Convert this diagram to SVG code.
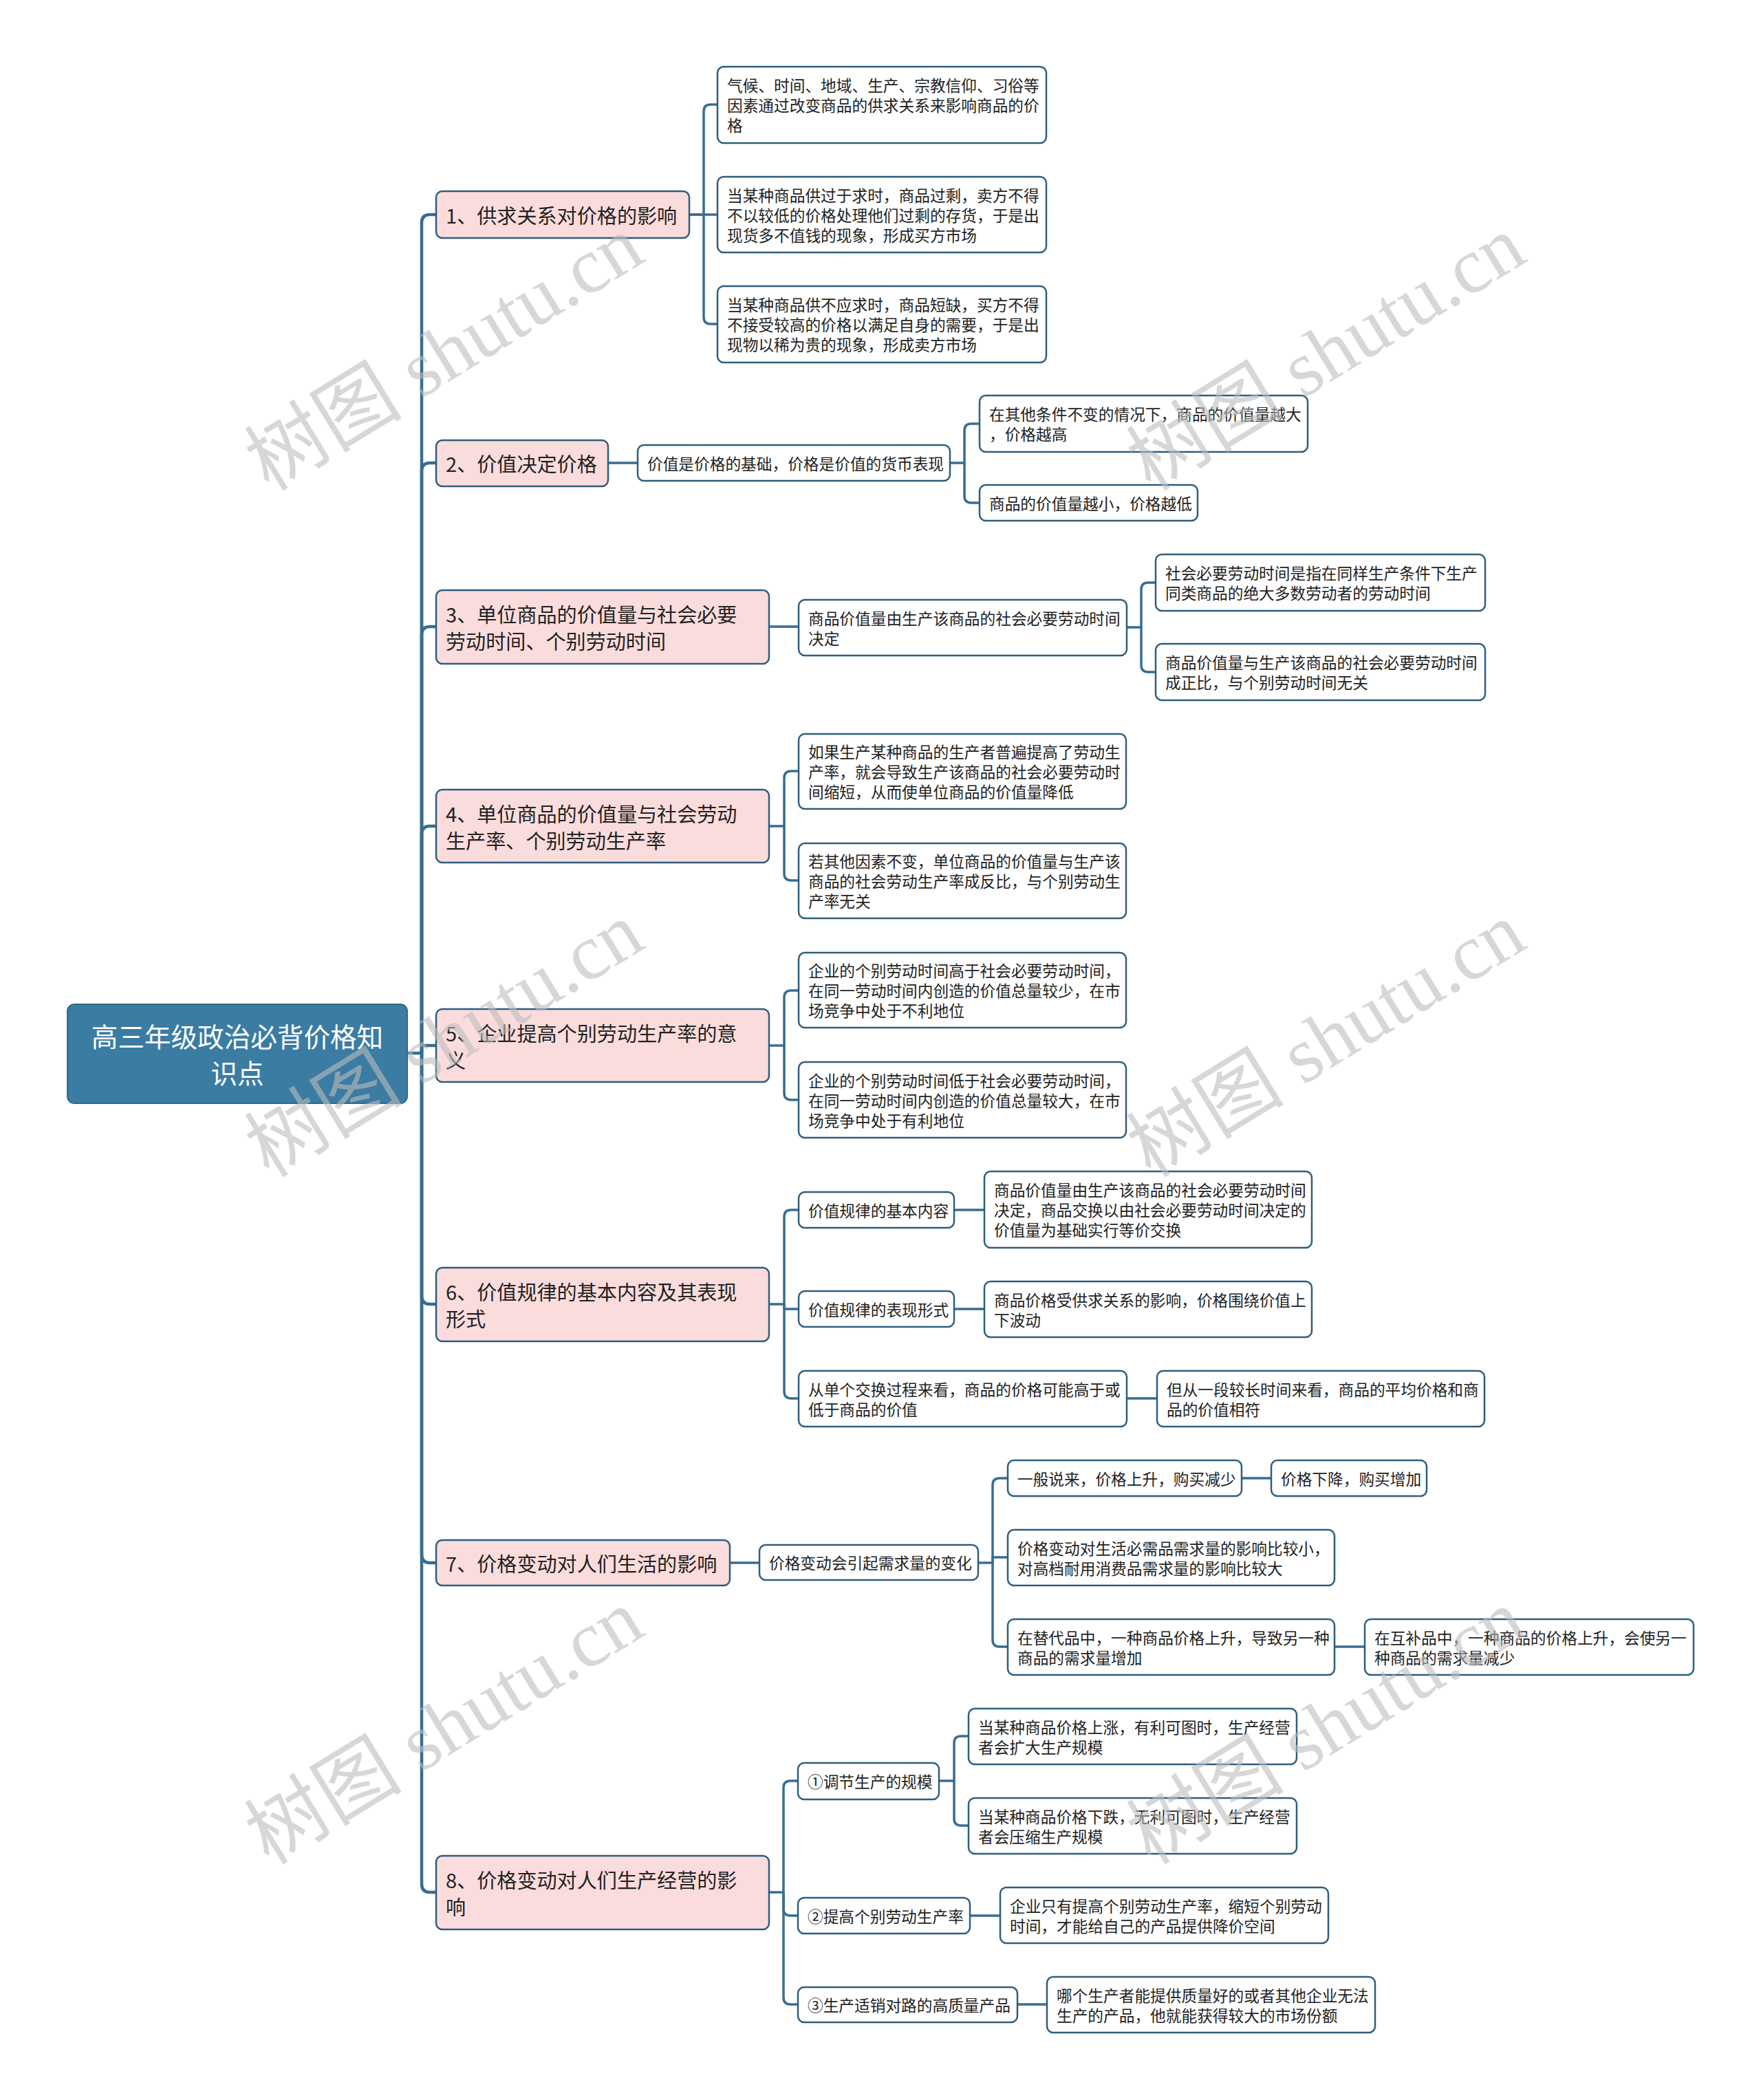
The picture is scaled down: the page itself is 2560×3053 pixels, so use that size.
<svg xmlns="http://www.w3.org/2000/svg" width="2560" height="3053" viewBox="0 0 2560 3053">
<style>
.bg{fill:#ffffff}
.root{fill:#3b7ca3;stroke:#2f6a8e;stroke-width:2}
.l1{fill:#fbdcdc;stroke:#2e5e7e;stroke-width:2.5}
.l2{fill:#ffffff;stroke:#2e5e7e;stroke-width:2.5}
text{font-family:"Noto Sans CJK SC","Noto Sans",sans-serif;dominant-baseline:central}
.tr{font-size:38.6px;fill:#ffffff;text-anchor:middle}
.t1{font-size:29.1px;fill:#222222}
.t2{font-size:22.7px;fill:#222222}
.conn path{fill:none;stroke:#386d92;stroke-width:3.5;stroke-linejoin:round}
.conn .trunk{stroke-width:4.5}
.wm{font-family:"Liberation Serif","Noto Sans CJK SC",serif;font-size:115px;fill:#bdbdbd;fill-opacity:0.6;text-anchor:middle;dominant-baseline:central}
</style>
<rect class="bg" x="0" y="0" width="2560" height="3053"/>
<g id="connectors" class="conn">
<path class="trunk" d="M592 1531 H613"/>
<path class="trunk" d="M613 1531 V324 Q613 312 625 312 H634"/>
<path class="trunk" d="M613 1531 V685 Q613 673 625 673 H634"/>
<path class="trunk" d="M613 1531 V923 Q613 911 625 911 H634"/>
<path class="trunk" d="M613 1531 V1213 Q613 1201 625 1201 H634"/>
<path class="trunk" d="M613 1520 H634"/>
<path class="trunk" d="M613 1531 V1884 Q613 1896 625 1896 H634"/>
<path class="trunk" d="M613 1531 V2260 Q613 2272 625 2272 H634"/>
<path class="trunk" d="M613 1531 V2739 Q613 2751 625 2751 H634"/>
<path d="M1002 312 H1023 V162 Q1023 152 1033 152 H1043"/>
<path d="M1002 312 H1043"/>
<path d="M1023 312 V461 Q1023 471 1033 471 H1043"/>
<path d="M884 673 H927"/>
<path d="M1381 673 H1402 V626 Q1402 616 1412 616 H1424"/>
<path d="M1402 673 V721 Q1402 731 1412 731 H1424"/>
<path d="M1118 911 H1161"/>
<path d="M1638 912 H1659 V857 Q1659 847 1669 847 H1680"/>
<path d="M1659 912 V967 Q1659 977 1669 977 H1680"/>
<path d="M1118 1201 H1140 V1131 Q1140 1121 1150 1121 H1161"/>
<path d="M1140 1201 V1270 Q1140 1280 1150 1280 H1161"/>
<path d="M1118 1520 H1140 V1450 Q1140 1440 1150 1440 H1161"/>
<path d="M1140 1520 V1589 Q1140 1599 1150 1599 H1161"/>
<path d="M1118 1896 H1140 V1769 Q1140 1759 1150 1759 H1161"/>
<path d="M1140 1896 V1903 H1161"/>
<path d="M1140 1896 V2023 Q1140 2033 1150 2033 H1161"/>
<path d="M1387 1759 H1431"/>
<path d="M1387 1903 H1431"/>
<path d="M1638 2033 H1682"/>
<path d="M1061 2272 H1104"/>
<path d="M1422 2272 H1443 V2159 Q1443 2149 1453 2149 H1465"/>
<path d="M1443 2272 V2264 H1465"/>
<path d="M1443 2272 V2384 Q1443 2394 1453 2394 H1465"/>
<path d="M1805 2149 H1848"/>
<path d="M1940 2394 H1984"/>
<path d="M1118 2751 H1139 V2599 Q1139 2589 1149 2589 H1160"/>
<path d="M1139 2751 V2775 Q1139 2785 1149 2785 H1160"/>
<path d="M1139 2751 V2904 Q1139 2914 1149 2914 H1160"/>
<path d="M1365 2589 H1387 V2534 Q1387 2524 1397 2524 H1408"/>
<path d="M1387 2589 V2644 Q1387 2654 1397 2654 H1408"/>
<path d="M1410 2785 H1454"/>
<path d="M1479 2914 H1522"/>
</g>
<g id="root"><rect class="root" x="98" y="1460" width="494" height="144" rx="10"/><text class="tr" x="345" y="1505">高三年级政治必背价格知</text><text class="tr" x="345" y="1558">识点</text></g>

<g id="n1"><rect class="l1" x="634" y="278" width="368" height="68" rx="9"/><text class="t1" x="648" y="312">1、供求关系对价格的影响</text></g>
<g id="n1a"><rect class="l2" x="1043" y="97" width="478" height="111" rx="9"/><text class="t2" x="1057" y="123.5">气候、时间、地域、生产、宗教信仰、习俗等</text><text class="t2" x="1057" y="152.5">因素通过改变商品的供求关系来影响商品的价</text><text class="t2" x="1057" y="181.5">格</text></g>
<g id="n1b"><rect class="l2" x="1043" y="257" width="478" height="110" rx="9"/><text class="t2" x="1057" y="283">当某种商品供过于求时，商品过剩，卖方不得</text><text class="t2" x="1057" y="312">不以较低的价格处理他们过剩的存货，于是出</text><text class="t2" x="1057" y="341">现货多不值钱的现象，形成买方市场</text></g>
<g id="n1c"><rect class="l2" x="1043" y="416" width="478" height="111" rx="9"/><text class="t2" x="1057" y="442.5">当某种商品供不应求时，商品短缺，买方不得</text><text class="t2" x="1057" y="471.5">不接受较高的价格以满足自身的需要，于是出</text><text class="t2" x="1057" y="500.5">现物以稀为贵的现象，形成卖方市场</text></g>

<g id="n2"><rect class="l1" x="634" y="640" width="250" height="67" rx="9"/><text class="t1" x="648" y="673">2、价值决定价格</text></g>
<g id="n2c"><rect class="l2" x="927" y="647" width="454" height="52" rx="9"/><text class="t2" x="941" y="673">价值是价格的基础，价格是价值的货币表现</text></g>
<g id="n2a"><rect class="l2" x="1424" y="575" width="477" height="82" rx="9"/><text class="t2" x="1438" y="601.5">在其他条件不变的情况下，商品的价值量越大</text><text class="t2" x="1438" y="630.5">，价格越高</text></g>
<g id="n2b"><rect class="l2" x="1424" y="705" width="317" height="52" rx="9"/><text class="t2" x="1438" y="731">商品的价值量越小，价格越低</text></g>

<g id="n3"><rect class="l1" x="634" y="858" width="484" height="107" rx="9"/><text class="t1" x="648" y="891.5">3、单位商品的价值量与社会必要</text><text class="t1" x="648" y="930.5">劳动时间、个别劳动时间</text></g>
<g id="n3c"><rect class="l2" x="1161" y="872" width="477" height="81" rx="9"/><text class="t2" x="1175" y="898">商品价值量由生产该商品的社会必要劳动时间</text><text class="t2" x="1175" y="927">决定</text></g>
<g id="n3a"><rect class="l2" x="1680" y="806" width="479" height="82" rx="9"/><text class="t2" x="1694" y="832.5">社会必要劳动时间是指在同样生产条件下生产</text><text class="t2" x="1694" y="861.5">同类商品的绝大多数劳动者的劳动时间</text></g>
<g id="n3b"><rect class="l2" x="1680" y="936" width="479" height="82" rx="9"/><text class="t2" x="1694" y="962.5">商品价值量与生产该商品的社会必要劳动时间</text><text class="t2" x="1694" y="991.5">成正比，与个别劳动时间无关</text></g>

<g id="n4"><rect class="l1" x="634" y="1148" width="484" height="106" rx="9"/><text class="t1" x="648" y="1181.5">4、单位商品的价值量与社会劳动</text><text class="t1" x="648" y="1220.5">生产率、个别劳动生产率</text></g>
<g id="n4a"><rect class="l2" x="1161" y="1067" width="476" height="109" rx="9"/><text class="t2" x="1175" y="1092.5">如果生产某种商品的生产者普遍提高了劳动生</text><text class="t2" x="1175" y="1121.5">产率，就会导致生产该商品的社会必要劳动时</text><text class="t2" x="1175" y="1150.5">间缩短，从而使单位商品的价值量降低</text></g>
<g id="n4b"><rect class="l2" x="1161" y="1226" width="476" height="109" rx="9"/><text class="t2" x="1175" y="1251.5">若其他因素不变，单位商品的价值量与生产该</text><text class="t2" x="1175" y="1280.5">商品的社会劳动生产率成反比，与个别劳动生</text><text class="t2" x="1175" y="1309.5">产率无关</text></g>

<g id="n5"><rect class="l1" x="634" y="1467" width="484" height="106" rx="9"/><text class="t1" x="648" y="1500.5">5、企业提高个别劳动生产率的意</text><text class="t1" x="648" y="1539.5">义</text></g>
<g id="n5a"><rect class="l2" x="1161" y="1385" width="476" height="109" rx="9"/><text class="t2" x="1175" y="1410.5">企业的个别劳动时间高于社会必要劳动时间，</text><text class="t2" x="1175" y="1439.5">在同一劳动时间内创造的价值总量较少，在市</text><text class="t2" x="1175" y="1468.5">场竞争中处于不利地位</text></g>
<g id="n5b"><rect class="l2" x="1161" y="1544" width="476" height="110" rx="9"/><text class="t2" x="1175" y="1570">企业的个别劳动时间低于社会必要劳动时间，</text><text class="t2" x="1175" y="1599">在同一劳动时间内创造的价值总量较大，在市</text><text class="t2" x="1175" y="1628">场竞争中处于有利地位</text></g>

<g id="n6"><rect class="l1" x="634" y="1843" width="484" height="107" rx="9"/><text class="t1" x="648" y="1876.5">6、价值规律的基本内容及其表现</text><text class="t1" x="648" y="1915.5">形式</text></g>
<g id="n6a"><rect class="l2" x="1161" y="1733" width="226" height="52" rx="9"/><text class="t2" x="1175" y="1759">价值规律的基本内容</text></g>
<g id="n6a1"><rect class="l2" x="1431" y="1703" width="476" height="111" rx="9"/><text class="t2" x="1445" y="1729.5">商品价值量由生产该商品的社会必要劳动时间</text><text class="t2" x="1445" y="1758.5">决定，商品交换以由社会必要劳动时间决定的</text><text class="t2" x="1445" y="1787.5">价值量为基础实行等价交换</text></g>
<g id="n6b"><rect class="l2" x="1161" y="1877" width="226" height="52" rx="9"/><text class="t2" x="1175" y="1903">价值规律的表现形式</text></g>
<g id="n6b1"><rect class="l2" x="1431" y="1863" width="476" height="81" rx="9"/><text class="t2" x="1445" y="1889">商品价格受供求关系的影响，价格围绕价值上</text><text class="t2" x="1445" y="1918">下波动</text></g>
<g id="n6c"><rect class="l2" x="1161" y="1993" width="477" height="81" rx="9"/><text class="t2" x="1175" y="2019">从单个交换过程来看，商品的价格可能高于或</text><text class="t2" x="1175" y="2048">低于商品的价值</text></g>
<g id="n6c1"><rect class="l2" x="1682" y="1993" width="476" height="81" rx="9"/><text class="t2" x="1696" y="2019">但从一段较长时间来看，商品的平均价格和商</text><text class="t2" x="1696" y="2048">品的价值相符</text></g>

<g id="n7"><rect class="l1" x="634" y="2239" width="427" height="66" rx="9"/><text class="t1" x="648" y="2272">7、价格变动对人们生活的影响</text></g>
<g id="n7c"><rect class="l2" x="1104" y="2246" width="318" height="51" rx="9"/><text class="t2" x="1118" y="2271.5">价格变动会引起需求量的变化</text></g>
<g id="n7a"><rect class="l2" x="1465" y="2123" width="340" height="52" rx="9"/><text class="t2" x="1479" y="2149">一般说来，价格上升，购买减少</text></g>
<g id="n7a1"><rect class="l2" x="1848" y="2123" width="226" height="52" rx="9"/><text class="t2" x="1862" y="2149">价格下降，购买增加</text></g>
<g id="n7b"><rect class="l2" x="1465" y="2224" width="475" height="81" rx="9"/><text class="t2" x="1479" y="2250">价格变动对生活必需品需求量的影响比较小，</text><text class="t2" x="1479" y="2279">对高档耐用消费品需求量的影响比较大</text></g>
<g id="n7d"><rect class="l2" x="1465" y="2354" width="475" height="81" rx="9"/><text class="t2" x="1479" y="2380">在替代品中，一种商品价格上升，导致另一种</text><text class="t2" x="1479" y="2409">商品的需求量增加</text></g>
<g id="n7d1"><rect class="l2" x="1984" y="2354" width="478" height="81" rx="9"/><text class="t2" x="1998" y="2380">在互补品中，一种商品的价格上升，会使另一</text><text class="t2" x="1998" y="2409">种商品的需求量减少</text></g>

<g id="n8"><rect class="l1" x="634" y="2698" width="484" height="107" rx="9"/><text class="t1" x="648" y="2731.5">8、价格变动对人们生产经营的影</text><text class="t1" x="648" y="2770.5">响</text></g>
<g id="n8a"><rect class="l2" x="1160" y="2563" width="205" height="53" rx="9"/><text class="t2" x="1174" y="2589.5">①调节生产的规模</text></g>
<g id="n8a1"><rect class="l2" x="1408" y="2484" width="477" height="81" rx="9"/><text class="t2" x="1422" y="2510">当某种商品价格上涨，有利可图时，生产经营</text><text class="t2" x="1422" y="2539">者会扩大生产规模</text></g>
<g id="n8a2"><rect class="l2" x="1408" y="2614" width="477" height="81" rx="9"/><text class="t2" x="1422" y="2640">当某种商品价格下跌，无利可图时，生产经营</text><text class="t2" x="1422" y="2669">者会压缩生产规模</text></g>
<g id="n8b"><rect class="l2" x="1160" y="2759" width="250" height="52" rx="9"/><text class="t2" x="1174" y="2785">②提高个别劳动生产率</text></g>
<g id="n8b1"><rect class="l2" x="1454" y="2744" width="477" height="81" rx="9"/><text class="t2" x="1468" y="2770">企业只有提高个别劳动生产率，缩短个别劳动</text><text class="t2" x="1468" y="2799">时间，才能给自己的产品提供降价空间</text></g>
<g id="n8c"><rect class="l2" x="1160" y="2889" width="319" height="51" rx="9"/><text class="t2" x="1174" y="2914.5">③生产适销对路的高质量产品</text></g>
<g id="n8c1"><rect class="l2" x="1522" y="2874" width="477" height="81" rx="9"/><text class="t2" x="1536" y="2900">哪个生产者能提供质量好的或者其他企业无法</text><text class="t2" x="1536" y="2929">生产的产品，他就能获得较大的市场份额</text></g>

<g id="watermarks">
<text class="wm" x="646" y="514" transform="rotate(-31.5 646 514)">树图 shutu.cn</text>
<text class="wm" x="1928" y="514" transform="rotate(-31.5 1928 514)">树图 shutu.cn</text>
<text class="wm" x="646" y="1512" transform="rotate(-31.5 646 1512)">树图 shutu.cn</text>
<text class="wm" x="1928" y="1512" transform="rotate(-31.5 1928 1512)">树图 shutu.cn</text>
<text class="wm" x="646" y="2511" transform="rotate(-31.5 646 2511)">树图 shutu.cn</text>
<text class="wm" x="1928" y="2511" transform="rotate(-31.5 1928 2511)">树图 shutu.cn</text>
</g>
</svg>
